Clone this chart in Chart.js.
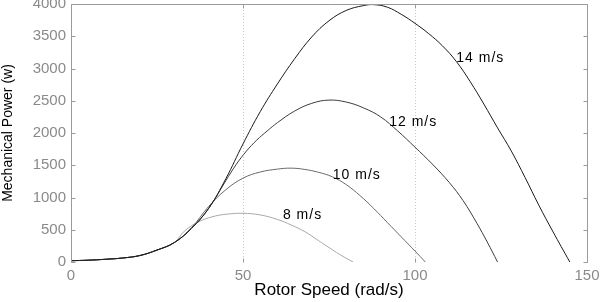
<!DOCTYPE html>
<html>
<head>
<meta charset="utf-8">
<script src="https://cdn.jsdelivr.net/npm/chart.js@4/dist/chart.umd.min.js"></script>
<style>
html,body{margin:0;padding:0;background:#fff;}
#wrap{width:601px;height:302px;}
</style>
</head>
<body>
<div id="wrap"><canvas id="c" width="601" height="302"></canvas></div>
<script>
// ---- data ----
const speed14 = [0,5,10,15,20,25,30,35,40,45,50,55,60,65,70,75,80,85,88,92,96,100,104,108,112,116,120,124,128,132,136,140,145];
const power14 = [20,28,42,62,100,185,300,520,830,1290,1830,2330,2760,3150,3490,3740,3900,3975,3990,3950,3840,3700,3540,3350,3110,2800,2450,2080,1720,1310,880,480,0];

const speed12 = [0,5,10,15,20,25,30,35,40,45,48,51,54,57,60,65,70,75,80,85,90,95,100,105,110,114,118,121,124];
const power12 = [20,28,42,62,100,185,300,520,830,1260,1510,1720,1890,2030,2160,2340,2460,2510,2480,2390,2250,2030,1780,1520,1230,950,600,310,0];

const speed10 = [0,5,10,15,20,25,30,35,40,45,50,55,60,64,68,72,76,80,84,88,92,96,100,103];
const power10 = [20,28,42,62,100,185,300,530,860,1120,1300,1395,1440,1455,1435,1390,1320,1200,1030,830,610,390,170,0];

const speed8 = [0,5,10,15,20,25,30,33,37,41,45,50,55,60,64,68,72,75,78,82];
const power8 = [20,28,42,62,100,185,300,480,620,700,740,755,730,660,574,470,330,225,120,0];

const seriesLabels = ['14 m/s','12 m/s','10 m/s','8 m/s'];
const labelAnchorX = [112, 92.5, 76.1, 61.6];
const labelAnchorY = [3163, 2171, 1349, 729];

const xTicks = [0,50,100,150];
const yTicks = [0,500,1000,1500,2000,2500,3000,3500,4000];
const xTitle = 'Rotor Speed (rad/s)';
const yTitle = 'Mechanical Power (w)';

function pts(xs, ys){ return xs.map((x,i)=>({x:x, y:ys[i]})); }

const lineColors = ['#1a1a1a','#3c3c3c','#6a6a6a','#a8a8a8'];
const allSeries = [[speed14,power14],[speed12,power12],[speed10,power10],[speed8,power8]];

const datasets = allSeries.map((s,i)=>({
  label: seriesLabels[i],
  data: pts(s[0], s[1]),
  borderColor: lineColors[i],
  borderWidth: 1,
  pointRadius: 0,
  showLine: true,
  fill: false,
  tension: 0.4
}));

const frame = {
  id: 'frame',
  beforeDatasetsDraw(chart){
    const {ctx, chartArea:a, scales:{x,y}} = chart;
    ctx.save();
    ctx.strokeStyle = '#c8c8c8';
    ctx.lineWidth = 1;
    ctx.setLineDash([1,2]);
    [50,100].forEach(v=>{
      const px = Math.round(x.getPixelForValue(v))+0.5;
      ctx.beginPath(); ctx.moveTo(px,a.top); ctx.lineTo(px,a.bottom); ctx.stroke();
    });
    ctx.restore();
  },
  afterDatasetsDraw(chart){
    const {ctx, chartArea:a, scales:{x,y}} = chart;
    ctx.save();
    ctx.strokeStyle = '#9a9a9a';
    ctx.lineWidth = 1;
    const L = Math.round(a.left)+0.5, R = Math.round(a.right)+0.5, T = Math.round(a.top)+0.5, B = Math.round(a.bottom)+0.5;
    ctx.beginPath();
    ctx.moveTo(L,B); ctx.lineTo(L,T); ctx.lineTo(R,T); ctx.lineTo(R,B);
    ctx.stroke();
    yTicks.forEach(v=>{
      const py = Math.round(y.getPixelForValue(v))+0.5;
      ctx.beginPath(); ctx.moveTo(L,py); ctx.lineTo(L+4,py); ctx.stroke();
      ctx.beginPath(); ctx.moveTo(R,py); ctx.lineTo(R-4,py); ctx.stroke();
    });
    xTicks.forEach(v=>{
      const px = Math.round(x.getPixelForValue(v))+0.5;
      ctx.beginPath(); ctx.moveTo(px,B); ctx.lineTo(px,B-4); ctx.stroke();
      ctx.beginPath(); ctx.moveTo(px,T); ctx.lineTo(px,T+4); ctx.stroke();
    });
    ctx.fillStyle = '#000';
    ctx.font = '14px "Liberation Sans", Arial, sans-serif';
    ctx.textBaseline = 'middle';
    ctx.textAlign = 'left';
    try { ctx.letterSpacing = '1px'; } catch(e) {}
    seriesLabels.forEach((t,i)=>{
      ctx.fillText(t, x.getPixelForValue(labelAnchorX[i]), y.getPixelForValue(labelAnchorY[i]));
    });
    ctx.restore();
  }
};

new Chart(document.getElementById('c'), {
  type: 'scatter',
  data: { datasets },
  plugins: [frame],
  options: {
    responsive: false,
    animation: false,
    devicePixelRatio: 1,
    layout: { padding: { top: 4, right: 14, left: 0, bottom: 0 } },
    plugins: { legend: { display: false }, tooltip: { enabled: false } },
    scales: {
      x: {
        type: 'linear', min: 0, max: 150,
        afterBuildTicks(s){ s.ticks = xTicks.map(v=>({value:v})); },
        afterFit(s){ s.height = 40; s.paddingLeft = 0; s.paddingRight = 0; },
        grid: { display: false, drawTicks: false },
        border: { display: false },
        ticks: { color: '#8a8a8a', font: { size: 15, family: '"Liberation Sans", Arial, sans-serif' }, padding: 5, maxRotation: 0, callback: v => String(v) },
        title: { display: true, text: xTitle, color: '#000', font: { size: 17, family: '"Liberation Sans", Arial, sans-serif' }, padding: { top: 0, bottom: 1 } }
      },
      y: {
        type: 'linear', min: 0, max: 4000,
        afterBuildTicks(s){ s.ticks = yTicks.map(v=>({value:v})); },
        afterFit(s){ s.width = 71; s.paddingTop = 0; s.paddingBottom = 0; },
        grid: { display: false, drawTicks: false },
        border: { display: false },
        ticks: { color: '#8a8a8a', font: { size: 15, family: '"Liberation Sans", Arial, sans-serif' }, padding: 5, callback: v => String(v) },
        title: { display: true, text: yTitle, color: '#000', font: { size: 14, family: '"Liberation Sans", Arial, sans-serif' }, padding: { top: 0, bottom: 0 } }
      }
    }
  }
});
</script>
</body>
</html>
